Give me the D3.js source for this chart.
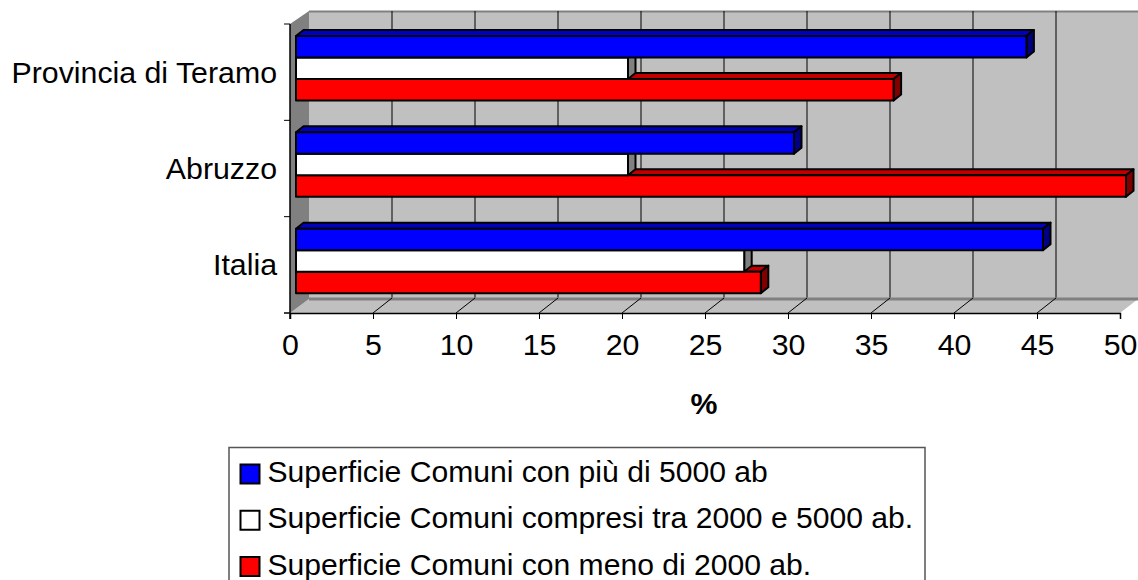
<!DOCTYPE html>
<html>
<head>
<meta charset="utf-8">
<script src="https://d3js.org/d3.v7.min.js"></script>
<style>
  html, body { margin: 0; padding: 0; background: #fff; }
  svg { display: block; }
  text { font-family: "Liberation Sans", Arial, sans-serif; font-size: 30.3px; fill: #000; }
</style>
</head>
<body>
<script>
var categories = ['Provincia di Teramo', 'Abruzzo', 'Italia'];
var seriesNames = ['Superficie Comuni con più di 5000 ab', 'Superficie Comuni compresi tra 2000 e 5000 ab.', 'Superficie Comuni con meno di 2000 ab.'];
var blueValues = [44, 30, 45];
var whiteValues = [20, 20, 27];
var redValues = [36, 50, 28];
var xTicks = [0, 5, 10, 15, 20, 25, 30, 35, 40, 45, 50];
var axisTitle = '%';

var frontColors = ['#0000ff', '#ffffff', '#ff0000'];
var topColors = ['#0000c0', '#c0c0c0', '#c00000'];
var sideColors = ['#000080', '#808080', '#800000'];

var depthX = 19, depthY = 14;   // wall offset
var barDx = 7.5, barDy = 6;     // bar depth

var svg = d3.select('body').append('svg').attr('width', 1138).attr('height', 580);

var x = d3.scaleLinear().domain([0, 50]).range([290, 1120]);
var y = d3.scaleBand().domain(categories).range([24, 313]);
var series = d3.scaleBand().domain([0, 1, 2]).range([0, 64.5]);
var bottom = 313, top_ = 24;

// back wall
svg.append('polygon').attr('fill', '#c0c0c0')
  .attr('points', [[x(0) + depthX, top_ - 13], [1138, top_ - 13], [1138, bottom - depthY], [x(0) + depthX, bottom - depthY]].join(' '));
svg.append('line').attr('x1', x(0) + depthX).attr('x2', 1138).attr('y1', top_ - 12.5).attr('y2', top_ - 12.5)
  .attr('stroke', '#808080').attr('stroke-width', 2);
// floor
svg.append('polygon').attr('fill', '#c0c0c0')
  .attr('points', [[x(0), bottom], [x(0) + depthX, bottom - depthY], [1138, bottom - depthY], [x(50), bottom]].join(' '));
// left wall
svg.append('polygon').attr('fill', '#808080')
  .attr('points', [[x(0), top_], [x(0) + depthX, top_ - 13], [x(0) + depthX, bottom - depthY], [x(0), bottom]].join(' '));
svg.append('line').attr('x1', x(0) + depthX).attr('x2', 1138).attr('y1', bottom - depthY).attr('y2', bottom - depthY)
  .attr('stroke', '#808080').attr('stroke-width', 3);

// grid on the wall and on the floor
xTicks.slice(1).forEach(function (t) {
  svg.append('line').attr('x1', x(t) + depthX).attr('x2', x(t) + depthX)
    .attr('y1', top_ - 13).attr('y2', bottom - depthY - 1.5).attr('stroke', '#000');
  if (t < 50) {
    svg.append('line').attr('x1', x(t)).attr('x2', x(t) + depthX)
      .attr('y1', bottom).attr('y2', bottom - depthY - 1).attr('stroke', '#000');
  }
});

// axes
svg.append('g').attr('transform', 'translate(0,' + bottom + ')')
  .call(d3.axisBottom(x).tickValues(xTicks).tickSize(6).tickPadding(14.5).tickFormat(d3.format('d')))
  .call(function (g) {
    g.select('.domain').attr('stroke', '#000').attr('stroke-width', 1.5);
    g.selectAll('text').style('font-size', '30.3px').style('font-family', '"Liberation Sans", Arial, sans-serif');
  });
svg.append('line').attr('x1', x(0) - 6).attr('x2', x(0)).attr('y1', bottom).attr('y2', bottom).attr('stroke', '#000').attr('stroke-width', 1.5);

svg.append('line').attr('x1', x(0)).attr('x2', x(0)).attr('y1', top_).attr('y2', bottom + 6).attr('stroke', '#000').attr('stroke-width', 1.5);
d3.range(0, 3).forEach(function (i) {
  svg.append('line').attr('x1', x(0) - 6).attr('x2', x(0)).attr('y1', y(categories[i])).attr('y2', y(categories[i])).attr('stroke', '#000');
  svg.append('text').attr('x', 277).attr('y', y(categories[i]) + y.bandwidth() / 2 + 10.5)
    .attr('text-anchor', 'end').text(categories[i]);
});

svg.append('text').attr('x', 704).attr('y', 413.5).attr('text-anchor', 'middle')
  .style('font-weight', 'bold').text(axisTitle);

// bars, red first so that the upper bar hides the top face of the one below
var allValues = [blueValues, whiteValues, redValues];
var barStart = x(0) + 6;
categories.forEach(function (c, ci) {
  [2, 1, 0].forEach(function (si) {
    var vals = allValues[si];
    var x0 = barStart;
    var x1 = barStart + (x(vals[ci]) - x(0));
    var y0 = y(c) + 12 + series(si);
    var y1 = y0 + series.bandwidth();
    var g = svg.append('g').attr('stroke', '#000').attr('stroke-width', 2).attr('stroke-linejoin', 'round');
    g.append('polygon').attr('fill', topColors[si])
      .attr('points', [[x0, y0], [x0 + barDx, y0 - barDy], [x1 + barDx, y0 - barDy], [x1, y0]].join(' '));
    g.append('polygon').attr('fill', sideColors[si])
      .attr('points', [[x1, y0], [x1 + barDx, y0 - barDy], [x1 + barDx, y1 - barDy], [x1, y1]].join(' '));
    g.append('rect').attr('fill', frontColors[si])
      .attr('x', x0).attr('y', y0).attr('width', x1 - x0).attr('height', y1 - y0);
  });
});

// legend
svg.append('rect').attr('x', 229).attr('y', 447.5).attr('width', 696).attr('height', 140)
  .attr('fill', '#fff').attr('stroke', '#555').attr('stroke-width', 1.5);
var legendY = d3.scalePoint().domain([0, 1, 2]).range([474, 566.5]);
seriesNames.forEach(function (name, i) {
  svg.append('rect').attr('x', 240.5).attr('y', legendY(i) - 9.5).attr('width', 19).attr('height', 19)
    .attr('fill', frontColors[i]).attr('stroke', '#000').attr('stroke-width', 2);
  svg.append('text').attr('x', 267.5).attr('y', legendY(i) + 8).style('font-size', '30.1px').text(name);
});
</script>
</body>
</html>
